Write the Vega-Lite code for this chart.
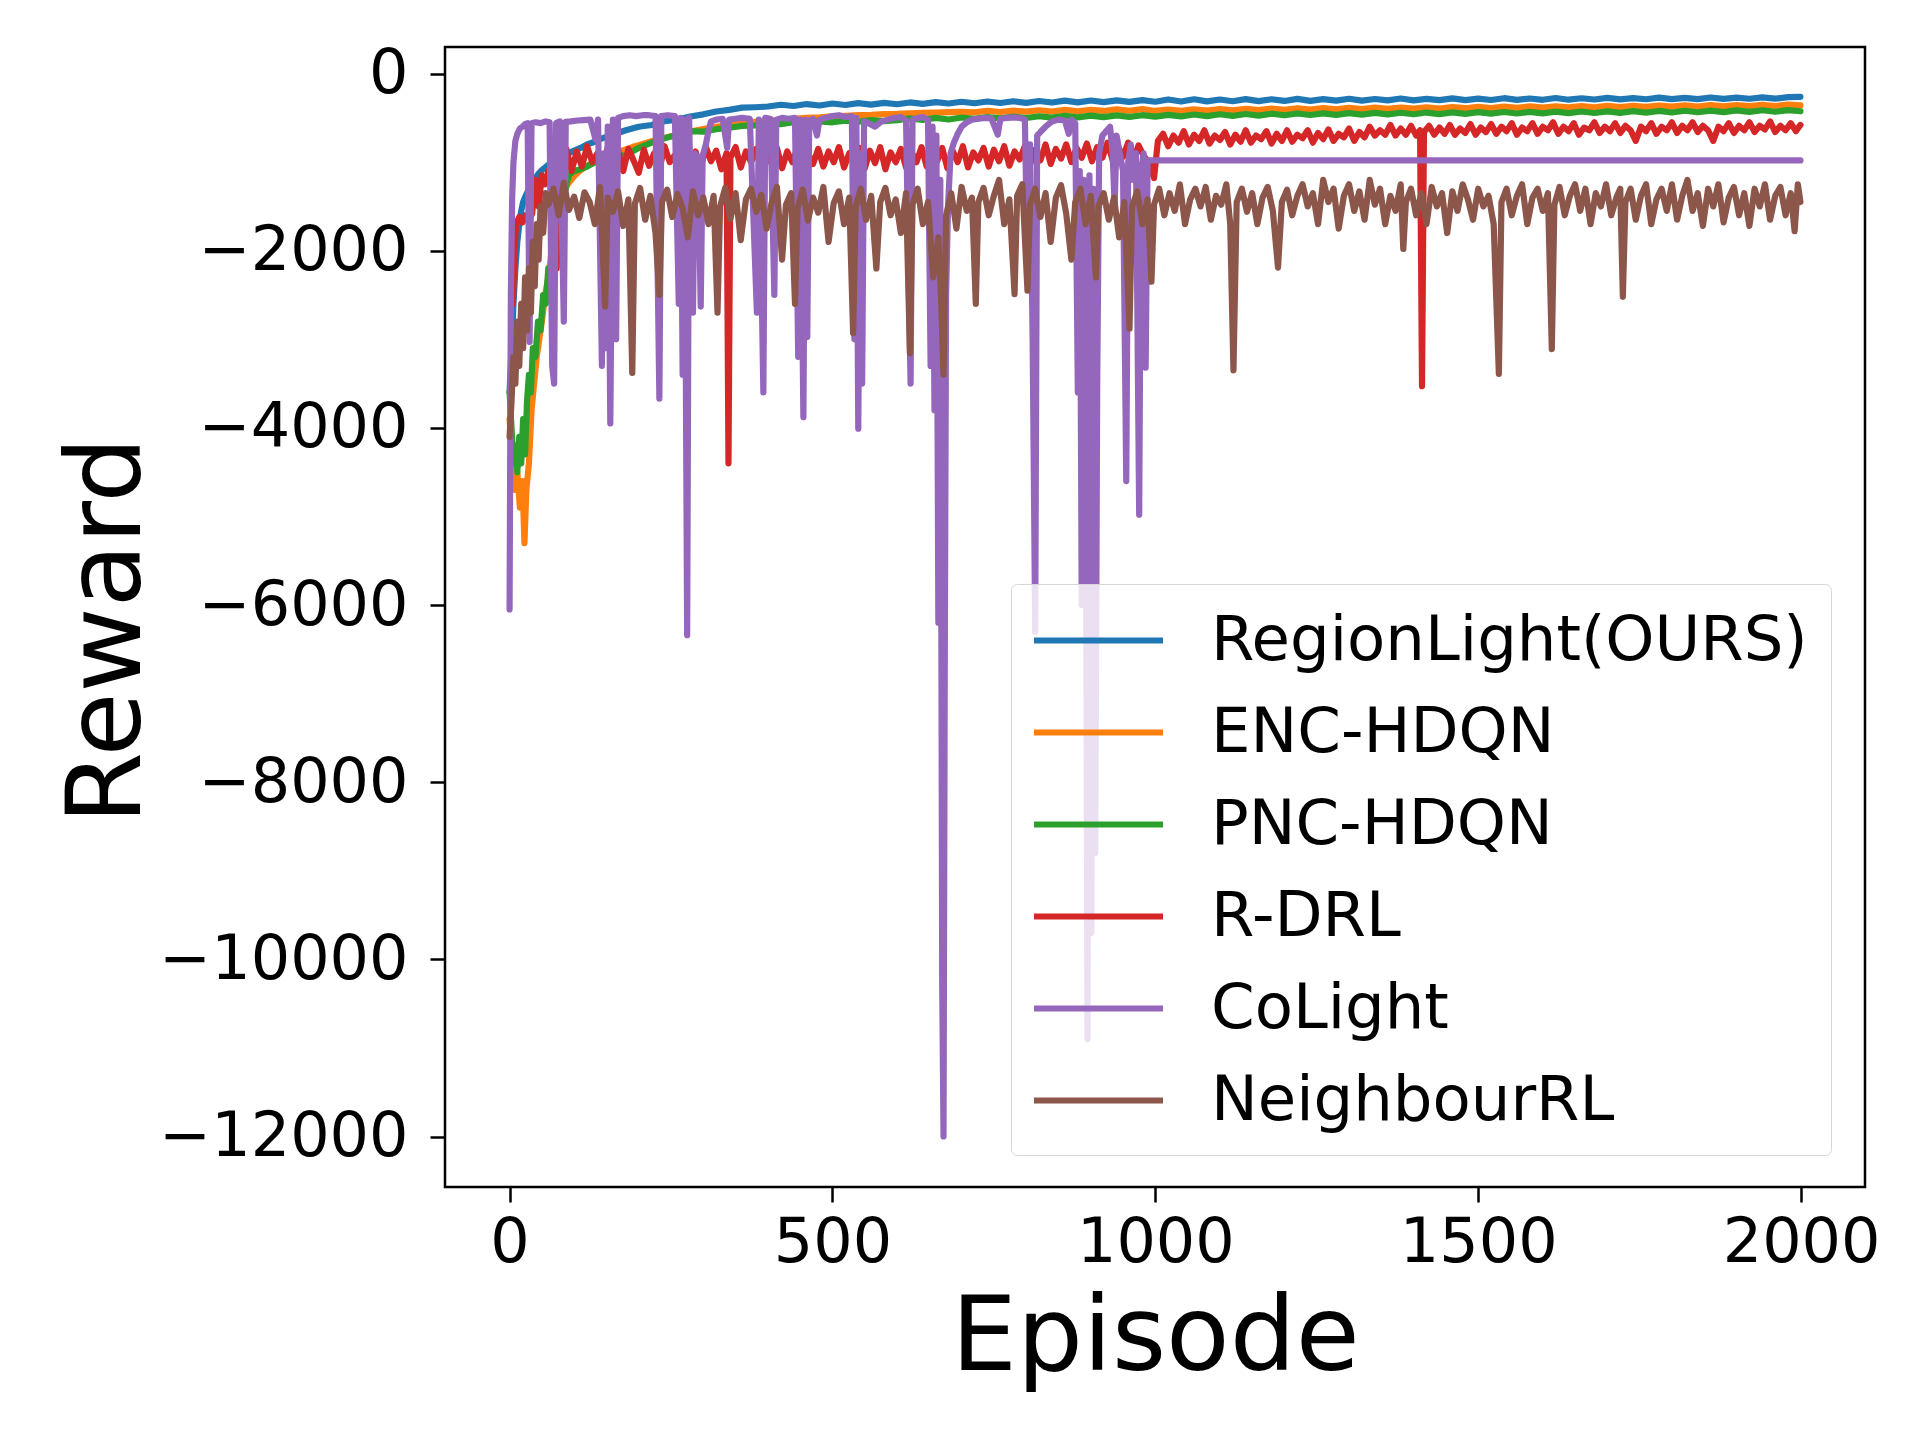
{
  "$schema": "https://vega.github.io/schema/vega-lite/v6.json",
  "width": 1420,
  "height": 1140,
  "autosize": {"type": "none"},
  "padding": {"left": 445, "top": 47, "right": 55, "bottom": 253},
  "background": "white",
  "config": {
    "view": {"stroke": "black", "strokeWidth": 2.5},
    "axis": {
      "grid": false, "domain": false, "tickSize": 15, "tickWidth": 2.5, "tickColor": "black",
      "labelFont": "DejaVu Sans", "labelFontSize": 62, "labelColor": "black", "labelLimit": 0,
      "titleFont": "DejaVu Sans", "titleFontSize": 104, "titleFontWeight": "normal", "titleColor": "black",
      "labelOverlap": false, "labelFlush": false
    },
    "line": {"strokeWidth": 6.2, "strokeJoin": "round", "strokeCap": "round", "clip": true}
  },
  "encoding": {
    "x": {
      "field": "e", "type": "quantitative",
      "scale": {"domain": [-100, 2099], "nice": false, "zero": false},
      "axis": {"values": [0, 500, 1000, 1500, 2000], "format": "d", "labelPadding": 10,
               "title": "Episode", "titleBaseline": "alphabetic", "titleX": 710, "titleY": 182}
    },
    "y": {
      "field": "r", "type": "quantitative",
      "scale": {"domain": [-12570, 300], "nice": false, "zero": false},
      "axis": {"values": [0, -2000, -4000, -6000, -8000, -10000, -12000], "format": "d", "labelPadding": 22,
               "title": "Reward", "titleBaseline": "alphabetic", "titleAngle": -90, "titleX": -306, "titleY": 583, "titleAlign": "center"}
    }
  },
  "layer": [
    {
      "data": {"format": {"type": "csv", "parse": {"e": "number", "r": "number"}},
        "values": "e,r\n0,-3600\n3,-3100\n6,-2600\n9,-2200\n12,-1900\n15,-1700\n18,-1550\n21,-1450\n25,-1380\n30,-1300\n35,-1240\n40,-1180\n45,-1130\n50,-1090\n60,-1030\n70,-990\n80,-950\n90,-905\n100,-870\n110,-840\n120,-800\n130,-775\n140,-740\n150,-715\n160,-690\n170,-665\n180,-640\n190,-620\n200,-600\n220,-580\n240,-538\n260,-520\n280,-484\n300,-460\n320,-428\n340,-410\n360,-385\n380,-380\n400,-372\n420,-352\n440,-366\n460,-344\n480,-360\n500,-338\n520,-355\n540,-334\n560,-350\n580,-330\n600,-346\n620,-326\n640,-342\n660,-322\n680,-338\n700,-318\n720,-335\n740,-315\n760,-332\n780,-312\n800,-330\n820,-310\n840,-327\n860,-306\n880,-325\n900,-304\n920,-322\n940,-302\n960,-320\n980,-300\n1000,-318\n1020,-292\n1040,-316\n1060,-290\n1080,-314\n1100,-293\n1120,-312\n1140,-288\n1160,-311\n1180,-290\n1200,-309\n1220,-286\n1240,-308\n1260,-289\n1280,-306\n1300,-284\n1320,-305\n1340,-287\n1360,-303\n1380,-282\n1400,-302\n1420,-285\n1440,-300\n1460,-280\n1480,-299\n1500,-283\n1520,-298\n1540,-278\n1560,-297\n1580,-281\n1600,-296\n1620,-276\n1640,-295\n1660,-279\n1680,-293\n1700,-274\n1720,-292\n1740,-277\n1760,-290\n1780,-272\n1800,-289\n1820,-275\n1840,-288\n1860,-270\n1880,-286\n1900,-272\n1920,-284\n1940,-268\n1960,-283\n1980,-266\n1999,-262"},
      "mark": {"type": "line"},
      "encoding": {"color": {"datum": "RegionLight(OURS)", "type": "nominal"}}
    },
    {
      "data": {"format": {"type": "csv", "parse": {"e": "number", "r": "number"}},
        "values": "e,r\n0,-3900\n4,-4300\n8,-4700\n12,-4500\n16,-4900\n20,-4600\n23,-5300\n26,-4700\n30,-4400\n34,-3800\n38,-3500\n42,-3200\n46,-3000\n50,-2800\n55,-2500\n60,-2300\n65,-2000\n70,-1800\n75,-1550\n80,-1400\n90,-1250\n100,-1160\n110,-1090\n120,-1040\n130,-1000\n140,-960\n150,-935\n160,-905\n170,-880\n180,-855\n190,-830\n200,-810\n220,-765\n240,-725\n260,-690\n280,-655\n300,-625\n320,-600\n340,-580\n360,-560\n380,-545\n400,-535\n420,-520\n440,-512\n460,-500\n480,-494\n500,-484\n520,-478\n540,-470\n560,-466\n580,-458\n600,-455\n620,-448\n640,-444\n660,-440\n680,-436\n700,-432\n720,-438\n740,-420\n760,-434\n780,-418\n800,-430\n820,-414\n840,-428\n860,-410\n880,-425\n900,-408\n920,-422\n940,-404\n960,-420\n980,-402\n1000,-422\n1020,-406\n1040,-420\n1060,-404\n1080,-418\n1100,-401\n1120,-415\n1140,-398\n1160,-412\n1180,-396\n1200,-410\n1220,-393\n1240,-407\n1260,-390\n1280,-404\n1300,-388\n1320,-402\n1340,-385\n1360,-399\n1380,-383\n1400,-396\n1420,-380\n1440,-394\n1460,-378\n1480,-391\n1500,-375\n1520,-389\n1540,-373\n1560,-386\n1580,-371\n1600,-384\n1620,-369\n1640,-382\n1660,-367\n1680,-380\n1700,-365\n1720,-378\n1740,-363\n1760,-376\n1780,-361\n1800,-374\n1820,-359\n1840,-372\n1860,-357\n1880,-370\n1900,-355\n1920,-368\n1940,-353\n1960,-366\n1980,-351\n1999,-360"},
      "mark": {"type": "line"},
      "encoding": {"color": {"datum": "ENC-HDQN", "type": "nominal"}}
    },
    {
      "data": {"format": {"type": "csv", "parse": {"e": "number", "r": "number"}},
        "values": "e,r\n0,-3600\n3,-4000\n6,-4400\n9,-4200\n12,-4500\n15,-4100\n18,-4400\n21,-3900\n24,-4300\n27,-3700\n30,-3400\n33,-3600\n36,-3100\n40,-3200\n44,-2800\n48,-2900\n52,-2500\n56,-2600\n60,-2200\n64,-2500\n68,-2000\n72,-1800\n76,-1900\n80,-1600\n84,-1400\n88,-1250\n92,-1150\n96,-1120\n100,-1100\n110,-1080\n120,-1050\n130,-1010\n140,-980\n150,-960\n160,-940\n170,-930\n180,-920\n190,-880\n200,-840\n220,-780\n240,-730\n260,-690\n280,-650\n300,-655\n320,-628\n340,-612\n360,-590\n380,-585\n400,-566\n420,-570\n440,-550\n460,-558\n480,-540\n500,-550\n520,-532\n540,-542\n560,-524\n580,-536\n600,-525\n620,-505\n640,-522\n660,-500\n680,-518\n700,-496\n720,-512\n740,-490\n760,-506\n780,-486\n800,-502\n820,-482\n840,-498\n860,-478\n880,-495\n900,-475\n920,-492\n940,-472\n960,-489\n980,-470\n1000,-486\n1020,-466\n1040,-483\n1060,-462\n1080,-480\n1100,-459\n1120,-477\n1140,-456\n1160,-474\n1180,-453\n1200,-471\n1220,-451\n1240,-468\n1260,-449\n1280,-466\n1300,-446\n1320,-463\n1340,-444\n1360,-461\n1380,-442\n1400,-459\n1420,-440\n1440,-457\n1460,-438\n1480,-455\n1500,-436\n1520,-453\n1540,-434\n1560,-451\n1580,-432\n1600,-449\n1620,-430\n1640,-447\n1660,-428\n1680,-445\n1700,-426\n1720,-443\n1740,-424\n1760,-441\n1780,-422\n1800,-439\n1820,-420\n1840,-437\n1860,-418\n1880,-435\n1900,-416\n1920,-433\n1940,-414\n1960,-431\n1980,-412\n1999,-425"},
      "mark": {"type": "line"},
      "encoding": {"color": {"datum": "PNC-HDQN", "type": "nominal"}}
    },
    {
      "data": {"format": {"type": "csv", "parse": {"e": "number", "r": "number"}},
        "values": "e,r\n5,-2600\n8,-2000\n10,-1700\n15,-1620\n20,-1680\n25,-1600\n30,-1650\n35,-1580\n40,-1200\n45,-1500\n50,-1150\n55,-1250\n60,-1100\n65,-1200\n70,-1950\n73,-2200\n76,-1300\n80,-1050\n88,-850\n96,-1100\n104,-880\n112,-1050\n120,-820\n128,-1000\n136,-900\n144,-1080\n152,-830\n160,-1020\n168,-870\n176,-1100\n184,-850\n192,-980\n200,-1120\n208,-860\n216,-1040\n224,-900\n232,-1080\n240,-820\n248,-1000\n256,-920\n264,-1100\n272,-850\n280,-1030\n288,-880\n296,-1060\n304,-830\n312,-990\n320,-870\n328,-1080\n336,-900\n339,-4400\n342,-950\n350,-830\n358,-1060\n366,-880\n374,-1000\n382,-850\n390,-1100\n398,-900\n406,-1020\n414,-840\n422,-1070\n430,-880\n438,-1000\n446,-830\n454,-1080\n462,-900\n470,-1020\n478,-850\n486,-1050\n494,-880\n502,-1000\n510,-830\n518,-1060\n526,-900\n534,-980\n542,-840\n550,-1070\n558,-870\n566,-1010\n574,-830\n582,-1080\n590,-890\n598,-1000\n606,-850\n614,-1060\n622,-880\n630,-1000\n638,-830\n646,-1050\n654,-900\n662,-990\n670,-840\n678,-1070\n686,-870\n694,-1000\n702,-820\n710,-1060\n718,-890\n726,-980\n734,-840\n742,-1050\n750,-860\n758,-990\n766,-820\n774,-1040\n782,-880\n790,-970\n798,-820\n806,-1030\n814,-860\n822,-980\n830,-800\n838,-1020\n846,-850\n854,-960\n862,-800\n870,-1000\n878,-840\n886,-950\n894,-790\n902,-990\n910,-830\n918,-950\n926,-780\n934,-980\n942,-820\n950,-940\n958,-780\n966,-970\n974,-810\n982,-930\n990,-1000\n998,-1180\n1004,-760\n1012,-680\n1020,-820\n1028,-700\n1036,-780\n1044,-650\n1052,-800\n1060,-690\n1068,-760\n1076,-640\n1084,-790\n1092,-700\n1100,-750\n1108,-660\n1116,-800\n1124,-690\n1132,-770\n1140,-640\n1148,-780\n1156,-700\n1164,-740\n1172,-650\n1180,-790\n1188,-680\n1196,-760\n1204,-640\n1212,-770\n1220,-690\n1228,-730\n1236,-640\n1244,-780\n1252,-670\n1260,-740\n1268,-630\n1276,-760\n1284,-680\n1292,-720\n1300,-620\n1308,-760\n1316,-660\n1324,-720\n1332,-600\n1340,-700\n1348,-640\n1356,-690\n1364,-580\n1372,-700\n1380,-620\n1388,-690\n1396,-590\n1404,-700\n1410,-640\n1413,-3530\n1416,-660\n1424,-590\n1432,-690\n1440,-610\n1448,-680\n1456,-580\n1464,-690\n1472,-620\n1480,-670\n1488,-570\n1496,-690\n1504,-610\n1512,-660\n1520,-570\n1528,-680\n1536,-600\n1544,-650\n1552,-560\n1560,-690\n1568,-610\n1576,-650\n1584,-560\n1592,-680\n1600,-600\n1608,-640\n1616,-550\n1624,-680\n1632,-600\n1640,-650\n1648,-560\n1656,-690\n1664,-610\n1672,-640\n1680,-550\n1688,-670\n1696,-600\n1704,-650\n1712,-560\n1720,-670\n1728,-590\n1736,-640\n1744,-760\n1752,-600\n1760,-650\n1768,-560\n1776,-680\n1784,-600\n1792,-640\n1800,-550\n1808,-670\n1816,-590\n1824,-640\n1832,-550\n1840,-660\n1848,-590\n1856,-640\n1864,-760\n1872,-600\n1880,-650\n1888,-560\n1896,-670\n1904,-590\n1912,-640\n1920,-550\n1928,-660\n1936,-590\n1944,-630\n1952,-540\n1960,-660\n1968,-590\n1976,-640\n1984,-560\n1992,-650\n1999,-580"},
      "mark": {"type": "line"},
      "encoding": {"color": {"datum": "R-DRL", "type": "nominal"}}
    },
    {
      "data": {"format": {"type": "csv", "parse": {"e": "number", "r": "number"}},
        "values": "e,r\n0,-6050\n2,-2500\n4,-1400\n6,-1000\n9,-760\n12,-680\n16,-620\n20,-600\n24,-570\n28,-560\n31,-3030\n34,-560\n40,-550\n48,-560\n56,-540\n62,-550\n66,-3300\n69,-3500\n72,-560\n78,-540\n84,-2800\n87,-545\n95,-540\n105,-530\n115,-525\n125,-520\n133,-740\n137,-520\n143,-3300\n146,-900\n149,-3100\n152,-600\n156,-3950\n160,-520\n165,-3000\n168,-500\n176,-480\n186,-470\n196,-480\n206,-470\n216,-470\n226,-480\n232,-3670\n235,-480\n245,-470\n256,-480\n262,-2600\n265,-500\n268,-3400\n271,-520\n275,-6340\n278,-500\n284,-2700\n287,-900\n292,-950\n296,-2630\n299,-930\n304,-800\n308,-650\n312,-540\n320,-520\n330,-510\n337,-840\n340,-520\n350,-510\n360,-500\n372,-510\n383,-2700\n386,-520\n393,-3600\n396,-500\n404,-510\n410,-2500\n413,-520\n422,-500\n432,-510\n442,-500\n447,-3200\n450,-520\n455,-3880\n458,-520\n461,-2975\n464,-530\n470,-510\n476,-700\n480,-520\n490,-500\n500,-480\n510,-470\n520,-490\n530,-480\n534,-3000\n537,-500\n540,-4010\n543,-900\n546,-3500\n549,-540\n556,-560\n566,-600\n576,-540\n586,-520\n596,-500\n606,-490\n614,-530\n618,-2300\n621,-3500\n624,-520\n632,-500\n640,-490\n648,-520\n652,-3300\n655,-600\n658,-3800\n661,-700\n664,-6200\n667,-1200\n670,-10300\n672,-12000\n674,-6500\n676,-2500\n679,-1500\n683,-900\n688,-780\n694,-680\n700,-600\n708,-550\n716,-520\n726,-510\n736,-500\n746,-505\n756,-690\n760,-510\n770,-500\n780,-495\n790,-500\n798,-520\n802,-2200\n806,-800\n810,-3000\n814,-6300\n817,-700\n822,-660\n830,-600\n840,-540\n850,-520\n860,-530\n866,-680\n870,-520\n876,-560\n880,-3600\n883,-1100\n886,-6000\n889,-1200\n892,-3700\n895,-10900\n898,-1150\n901,-9700\n904,-1300\n907,-8800\n910,-3500\n913,-900\n918,-700\n924,-650\n930,-600\n934,-920\n937,-1500\n940,-700\n945,-900\n950,-1100\n955,-4600\n958,-1000\n962,-800\n966,-1200\n970,-900\n975,-4980\n978,-1100\n982,-900\n985,-3320\n988,-980\n1999,-980"},
      "mark": {"type": "line"},
      "encoding": {"color": {"datum": "CoLight", "type": "nominal"}}
    },
    {
      "data": {"format": {"type": "csv", "parse": {"e": "number", "r": "number"}},
        "values": "e,r\n0,-4100\n3,-3700\n6,-3200\n9,-3500\n12,-2800\n15,-3300\n18,-2600\n21,-3100\n24,-2300\n27,-2900\n30,-2200\n33,-2700\n36,-1900\n39,-2400\n42,-1700\n45,-2100\n48,-1500\n52,-1800\n56,-1350\n60,-1480\n68,-1300\n76,-1600\n84,-1230\n92,-1540\n100,-1390\n108,-1630\n116,-1340\n124,-1450\n132,-1700\n140,-1280\n148,-2630\n152,-1400\n160,-1560\n168,-1330\n176,-1720\n184,-1420\n190,-3380\n194,-1470\n202,-1290\n210,-1650\n218,-1380\n226,-1800\n232,-2500\n236,-1450\n244,-1310\n252,-1620\n260,-1360\n268,-1520\n276,-1850\n284,-1330\n292,-1600\n300,-1400\n308,-1700\n316,-1380\n322,-2700\n326,-1500\n334,-1290\n342,-1640\n350,-1350\n358,-1880\n366,-1420\n374,-1300\n382,-1560\n390,-1370\n398,-1750\n406,-1450\n414,-1280\n422,-2100\n428,-1480\n436,-1350\n442,-2600\n446,-1520\n454,-1310\n462,-1660\n470,-1400\n478,-1570\n486,-1280\n494,-1900\n502,-1460\n510,-1330\n518,-1700\n526,-1400\n532,-2930\n536,-1500\n544,-1300\n552,-1650\n560,-1380\n568,-2200\n574,-1450\n582,-1290\n590,-1600\n598,-1420\n606,-1800\n614,-1350\n620,-3160\n624,-1480\n632,-1300\n640,-1700\n648,-1450\n656,-2300\n664,-1850\n668,-2500\n672,-3400\n676,-1600\n684,-1350\n692,-1750\n700,-1280\n708,-1550\n716,-1400\n722,-2600\n726,-1450\n734,-1290\n742,-1600\n750,-1380\n758,-1200\n766,-1700\n774,-1420\n782,-2490\n786,-1380\n794,-1250\n802,-2450\n806,-1480\n814,-1300\n822,-1620\n830,-1350\n838,-1900\n846,-1400\n854,-1260\n862,-1580\n870,-2100\n876,-1450\n884,-1300\n892,-1700\n900,-1380\n908,-2300\n912,-1500\n920,-1350\n928,-1650\n936,-1400\n944,-1850\n952,-1450\n960,-2880\n964,-1500\n972,-1330\n980,-1700\n988,-1420\n994,-2350\n998,-1480\n1006,-1300\n1014,-1600\n1022,-1350\n1030,-1550\n1038,-1250\n1046,-1700\n1054,-1420\n1062,-1300\n1070,-1500\n1078,-1280\n1086,-1650\n1094,-1380\n1102,-1480\n1110,-1250\n1116,-1700\n1121,-3350\n1126,-1450\n1134,-1300\n1142,-1560\n1150,-1350\n1158,-1700\n1166,-1400\n1174,-1280\n1182,-1550\n1190,-2190\n1196,-1450\n1204,-1310\n1212,-1600\n1220,-1380\n1228,-1250\n1236,-1500\n1244,-1350\n1252,-1700\n1260,-1200\n1268,-1450\n1276,-1300\n1284,-1750\n1292,-1380\n1300,-1250\n1308,-1550\n1316,-1330\n1324,-1650\n1332,-1200\n1340,-1480\n1348,-1300\n1356,-1700\n1364,-1380\n1372,-1550\n1380,-1250\n1384,-1980\n1388,-1450\n1396,-1300\n1404,-1600\n1412,-1350\n1420,-1700\n1428,-1280\n1436,-1500\n1444,-1350\n1452,-1800\n1460,-1330\n1468,-1550\n1476,-1250\n1484,-1420\n1492,-1650\n1500,-1300\n1508,-1500\n1516,-1380\n1524,-1700\n1532,-3390\n1536,-1450\n1544,-1300\n1552,-1600\n1560,-1380\n1568,-1250\n1576,-1700\n1584,-1400\n1592,-1300\n1600,-1550\n1608,-1350\n1614,-3110\n1618,-1480\n1626,-1280\n1634,-1600\n1642,-1380\n1650,-1250\n1658,-1550\n1666,-1300\n1674,-1700\n1682,-1350\n1690,-1500\n1698,-1250\n1706,-1600\n1714,-1400\n1720,-1300\n1724,-2520\n1728,-1450\n1736,-1300\n1744,-1650\n1752,-1380\n1760,-1250\n1768,-1700\n1776,-1420\n1784,-1300\n1792,-1550\n1800,-1250\n1808,-1650\n1816,-1380\n1824,-1200\n1832,-1550\n1840,-1350\n1848,-1720\n1856,-1300\n1864,-1500\n1872,-1250\n1880,-1680\n1888,-1400\n1896,-1280\n1904,-1600\n1912,-1350\n1920,-1720\n1928,-1300\n1936,-1500\n1944,-1250\n1952,-1650\n1960,-1380\n1968,-1280\n1976,-1600\n1984,-1350\n1990,-1780\n1995,-1250\n1999,-1450"},
      "mark": {"type": "line"},
      "encoding": {
        "color": {
          "datum": "NeighbourRL", "type": "nominal",
          "scale": {
            "domain": ["RegionLight(OURS)", "ENC-HDQN", "PNC-HDQN", "R-DRL", "CoLight", "NeighbourRL"],
            "range": ["#1f77b4", "#ff7f0e", "#2ca02c", "#d62728", "#9467bd", "#8c564b"]
          },
          "legend": {
            "title": null, "orient": "none", "legendX": 566, "legendY": 537,
            "symbolType": "M-2.15,0H2.15", "symbolSize": 3600, "symbolStrokeWidth": 5,
            "symbolOffset": 31, "labelOffset": 79, "labelLimit": 0,
            "labelFont": "DejaVu Sans", "labelFontSize": 62.5, "labelColor": "black",
            "rowPadding": 27, "padding": 23,
            "strokeColor": "#d6d6d6", "fillColor": "rgba(255,255,255,0.8)", "cornerRadius": 6
          }
        }
      }
    }
  ]
}
